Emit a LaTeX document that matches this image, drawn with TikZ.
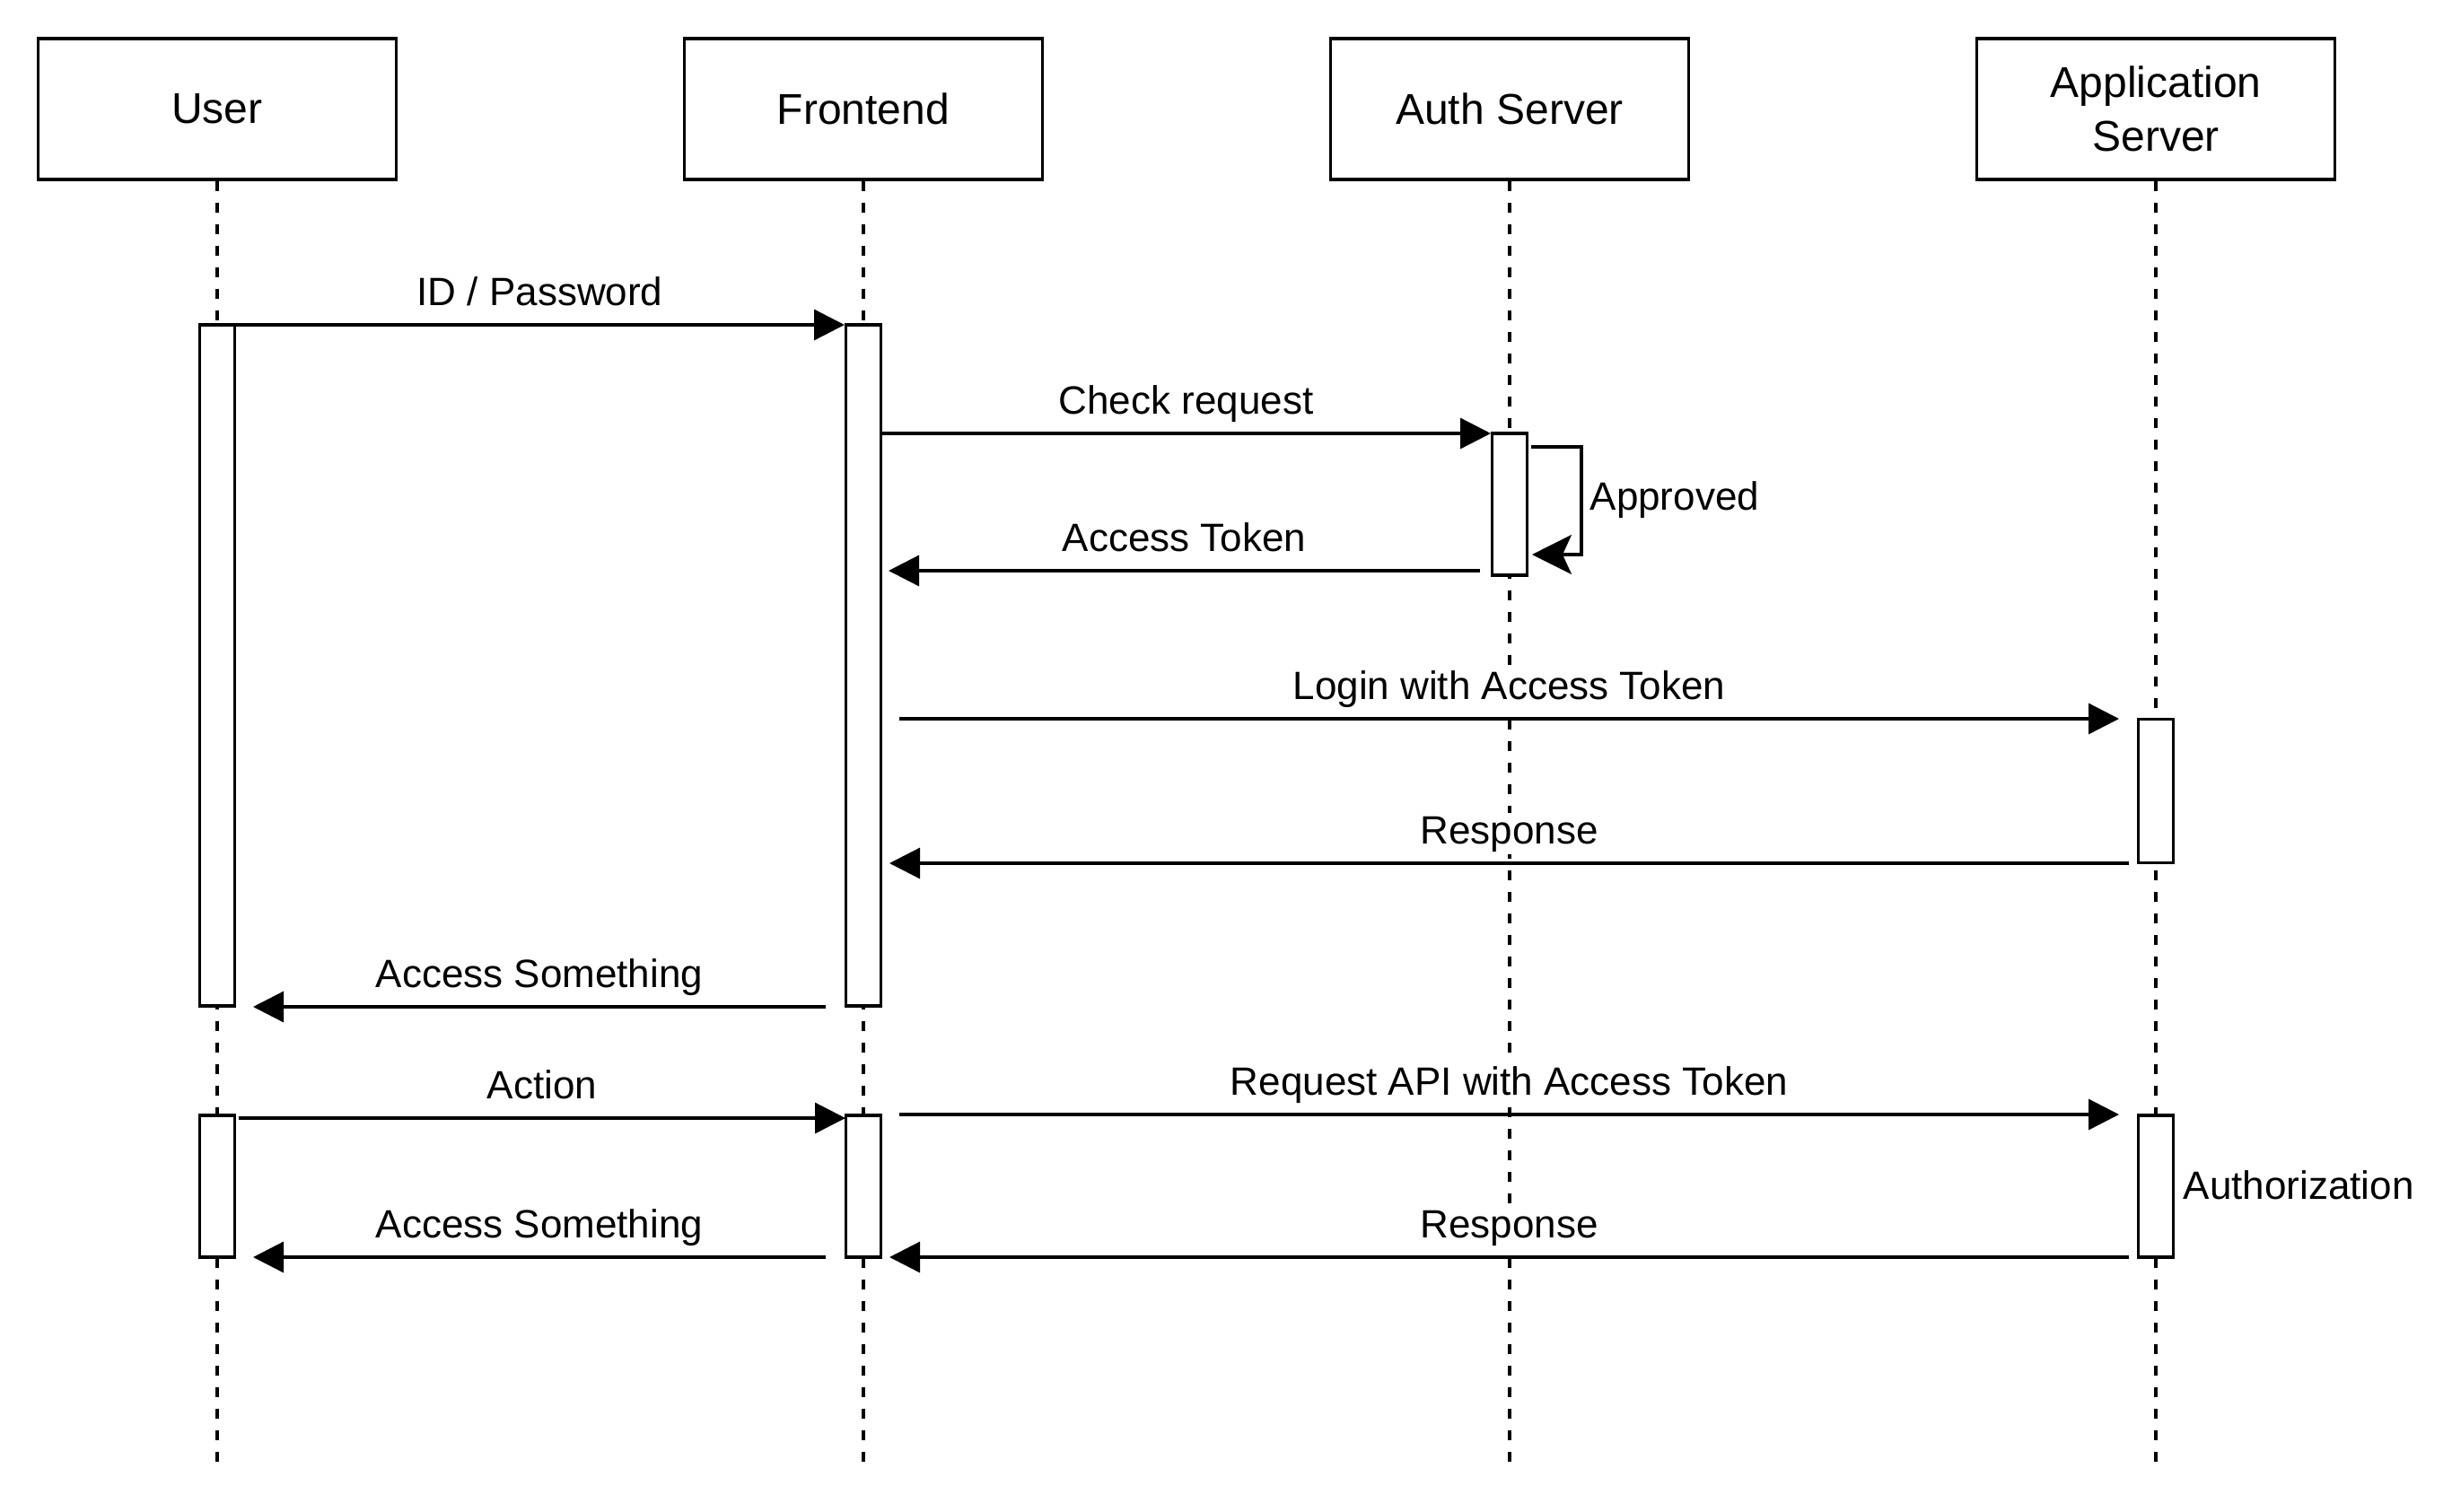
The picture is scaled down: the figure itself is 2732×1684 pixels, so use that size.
\documentclass[tikz,border=0pt]{standalone}
\usepackage{fontspec}
\setmainfont{Liberation Sans}
\usetikzlibrary{arrows.meta}
\begin{document}
\begin{tikzpicture}[x=0.3pt,y=-0.3pt,
  head/.style={draw,line width=1pt,minimum width=119.7pt,minimum height=47.1pt,inner sep=0pt,align=center,font=\fontsize{14.4}{18}\selectfont},
  act/.style={draw,fill=white,line width=1pt,minimum width=11.7pt,inner sep=0pt},
  life/.style={line width=1pt,dash pattern=on 3.5pt off 3.7pt},
  msg/.style={line width=1pt,-{Triangle[length=10.2pt,width=10.2pt]}},
  selfmsg/.style={line width=1pt,-{Stealth[length=13.2pt,width=13.2pt,inset=3pt]}},
  lbl/.style={anchor=base,yshift=6.6pt,fill=white,inner sep=1pt,font=\fontsize{13.2}{15.8}\selectfont},
  note/.style={anchor=base west,inner sep=0pt,font=\fontsize{13.2}{15.8}\selectfont}]
\useasboundingbox (0,0) rectangle (2732,1684);

% heads
\node[head] (user) at (242,121.5) {User};
\node[head] (front) at (962,121.5) {Frontend};
\node[head] (auth) at (1682,121.5) {Auth Server};
\node[head] (app) at (2402,121.5) {Application\\Server};

% lifeline ends
\coordinate (userEnd) at (242,1630);
\coordinate (frontEnd) at (962,1630);
\coordinate (authEnd) at (1682,1630);
\coordinate (appEnd) at (2402,1630);

\draw[life] (user.south) -- (userEnd);
\draw[life] (front.south) -- (frontEnd);
\draw[life] (auth.south) -- (authEnd);
\draw[life] (app.south) -- (appEnd);

% activation boxes
\node[act,minimum height=227.7pt] (ua1) at (242,741.5) {};
\node[act,minimum height=227.7pt] (fa1) at (962,741.5) {};
\node[act,minimum height=47.4pt] (aa1) at (1682,562) {};
\node[act,minimum height=48pt] (pa1) at (2402,881.5) {};
\node[act,minimum height=47.4pt] (ua2) at (242,1322) {};
\node[act,minimum height=47.4pt] (fa2) at (962,1322) {};
\node[act,minimum height=47.4pt] (pa2) at (2402,1322) {};

% message end points
\coordinate (m1a) at (262,362);   \coordinate (m1b) at (941,362);
\coordinate (m2a) at (982,483);   \coordinate (m2b) at (1661,483);
\coordinate (lpa) at (1706,498);  \coordinate (lpc) at (1762,618); \coordinate (lpb) at (1707,618);
\coordinate (m3a) at (1649,636);  \coordinate (m3b) at (990,636);
\coordinate (m4a) at (1002,801);  \coordinate (m4b) at (2361,801);
\coordinate (m5a) at (2372,962);  \coordinate (m5b) at (991,962);
\coordinate (m6a) at (920,1122);  \coordinate (m6b) at (282,1122);
\coordinate (m7a) at (266,1246);  \coordinate (m7b) at (942,1246);
\coordinate (m8a) at (1002,1242); \coordinate (m8b) at (2361,1242);
\coordinate (m9a) at (2372,1401); \coordinate (m9b) at (991,1401);
\coordinate (m10a) at (920,1401); \coordinate (m10b) at (282,1401);

\draw[msg] (m1a) -- node[lbl] (l1) {ID / Password} (m1b);
\draw[msg] (m2a) -- node[lbl] (l2) {Check request} (m2b);
\draw[selfmsg] (lpa) -| (lpc) -- (lpb);
\node[note] (l3) at (1771,568) {Approved};
\draw[msg] (m3a) -- node[lbl] (l4) {Access Token} (m3b);
\draw[msg] (m4a) -- node[lbl] (l5) {Login with Access Token} (m4b);
\draw[msg] (m5a) -- node[lbl] (l6) {Response} (m5b);
\draw[msg] (m6a) -- node[lbl] (l7) {Access Something} (m6b);
\draw[msg] (m7a) -- node[lbl] (l8) {Action} (m7b);
\draw[msg] (m8a) -- node[lbl] (l9) {Request API with Access Token} (m8b);
\draw[msg] (m9a) -- node[lbl] (l10) {Response} (m9b);
\draw[msg] (m10a) -- node[lbl] (l11) {Access Something} (m10b);
\node[note] (l12) at (2432,1336) {Authorization};
\end{tikzpicture}
\end{document}
